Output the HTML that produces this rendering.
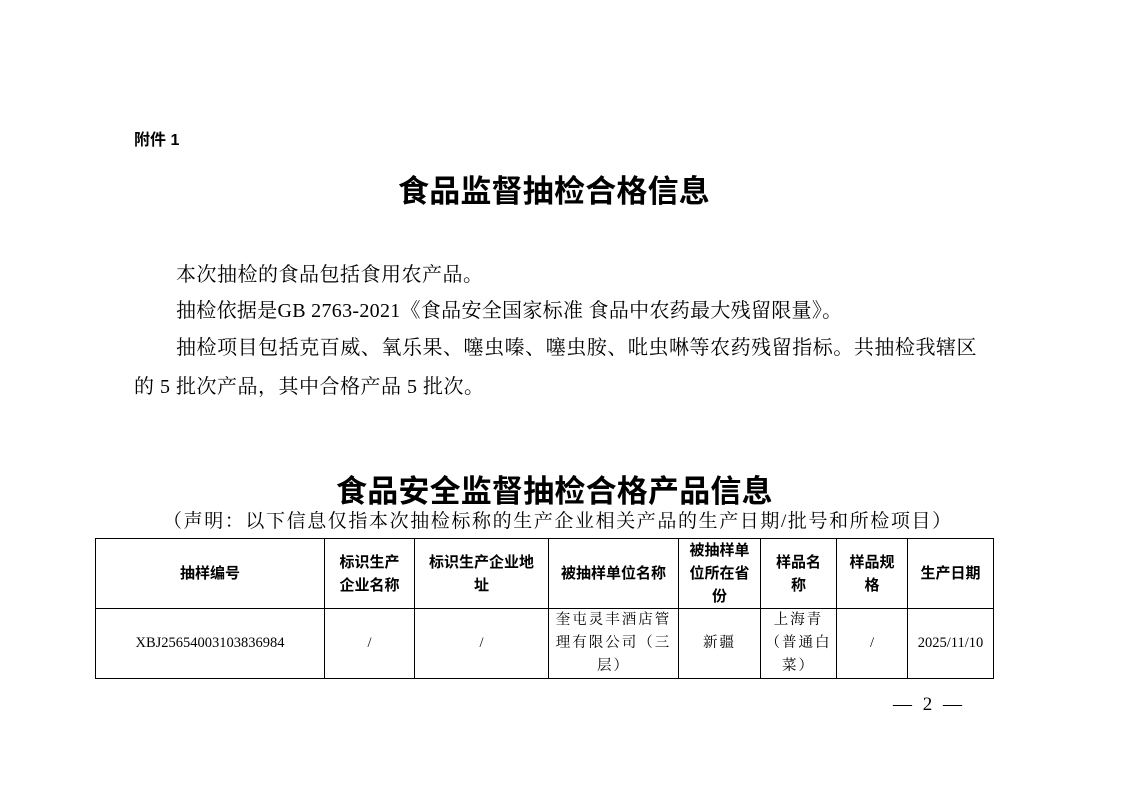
<!DOCTYPE html>
<html><head><meta charset="utf-8"><style>
body{margin:0;width:1122px;height:793px;background:#fff;position:relative;overflow:hidden;color:#000}
.a{position:absolute;white-space:nowrap}
.s{font-family:"Liberation Serif","Noto Serif CJK SC",serif}
.h{font-family:"Liberation Sans","Noto Sans CJK SC",sans-serif;font-weight:bold}
table{position:absolute;left:95px;top:538px;border-collapse:collapse;table-layout:fixed}
td{border:1px solid #000;text-align:center;vertical-align:middle;font-size:15px;line-height:23px;padding:0;white-space:nowrap}
tr.hd td{height:68px;font-family:"Liberation Sans","Noto Sans CJK SC",sans-serif;font-weight:bold}
tr.dt td{height:69px;font-family:"Liberation Serif","Noto Serif CJK SC",serif;font-size:14.5px}
.ls{letter-spacing:2px}
</style></head><body>
<div class="a h" style="left:134px;top:126px;font-size:16px">附件 1</div>
<div class="a h" style="left:398px;top:166px;font-size:31px;letter-spacing:0.2px">食品监督抽检合格信息</div>
<div class="a s" style="left:176px;top:258px;font-size:20px;letter-spacing:0.5px">本次抽检的食品包括食用农产品。</div>
<div class="a s" style="left:176px;top:294px;font-size:20px;letter-spacing:0.3px">抽检依据是GB 2763-2021《食品安全国家标准 食品中农药最大残留限量》。</div>
<div class="a s" style="left:176px;top:331px;font-size:20px;letter-spacing:0.54px">抽检项目包括克百威、氧乐果、噻虫嗪、噻虫胺、吡虫啉等农药残留指标。共抽检我辖区</div>
<div class="a s" style="left:134px;top:370px;font-size:20px;letter-spacing:0.5px">的 5 批次产品，其中合格产品 5 批次。</div>
<div class="a h" style="left:336px;top:466px;font-size:31px;letter-spacing:0.2px">食品安全监督抽检合格产品信息</div>
<div class="a s" style="left:163px;top:506px;font-size:19px;letter-spacing:1.6px">（声明：以下信息仅指本次抽检标称的生产企业相关产品的生产日期/批号和所检项目）</div>
<table>
<colgroup><col style="width:229px"><col style="width:90px"><col style="width:134px"><col style="width:130px"><col style="width:82px"><col style="width:76px"><col style="width:71px"><col style="width:86px"></colgroup>
<tr class="hd"><td>抽样编号</td><td>标识生产<br>企业名称</td><td>标识生产企业地<br>址</td><td>被抽样单位名称</td><td>被抽样单<br>位所在省<br>份</td><td>样品名<br>称</td><td>样品规<br>格</td><td>生产日期</td></tr>
<tr class="dt"><td>XBJ25654003103836984</td><td>/</td><td>/</td><td class="ls">奎屯灵丰酒店管<br>理有限公司（三<br>层）</td><td class="ls">新疆</td><td class="ls">上海青<br>（普通白<br>菜）</td><td>/</td><td>2025/11/10</td></tr>
</table>
<div class="a s" style="left:893px;top:694px;font-size:19px;letter-spacing:3px">— 2 —</div>
</body></html>
